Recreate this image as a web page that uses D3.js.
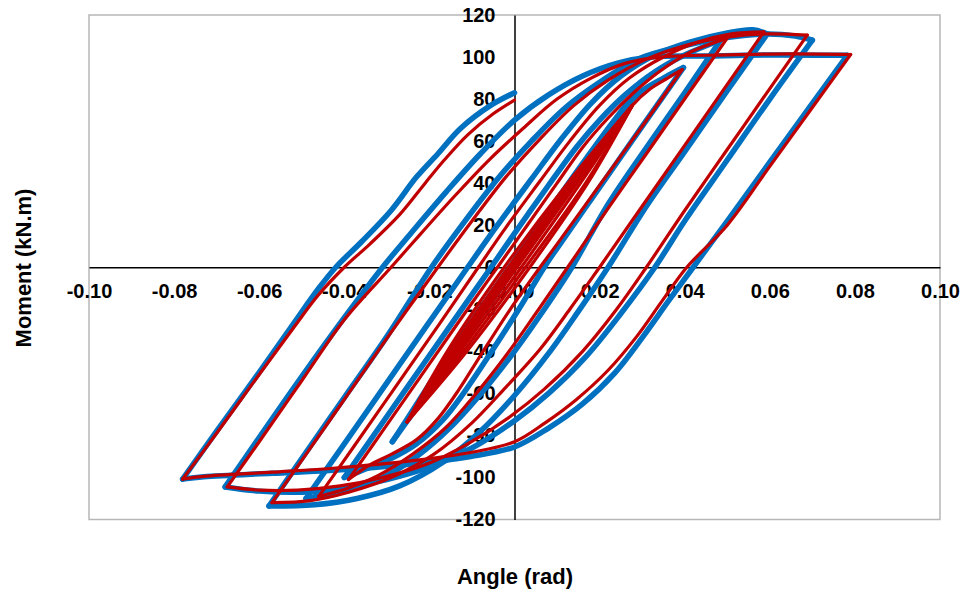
<!DOCTYPE html>
<head>
<meta charset="utf-8">
<style>
    body { margin: 0; background: #fff; }
    .blue { fill: none; stroke: #0070c0; stroke-width: 5.5px; stroke-linejoin: round; stroke-linecap: round; }
    .red  { fill: none; stroke: #c00000; stroke-width: 3.2px; stroke-linejoin: round; stroke-linecap: round; }
    .axis text { font-family: "Liberation Sans", Arial, sans-serif; font-weight: bold; font-size: 20px; fill: #000; }
    .axis path { stroke: #000; stroke-width: 1.5px; }
    .title { font-family: "Liberation Sans", Arial, sans-serif; font-weight: bold; font-size: 22px; }
</style>
<title>Moment - Angle</title>
</head>
<body>
<script src="https://d3js.org/d3.v7.min.js"></script>
<script>
// tick values
const xTicks = [-0.10, -0.08, -0.06, -0.04, -0.02, 0.00, 0.02, 0.04, 0.06, 0.08, 0.10];
const yTicks = [-120, -100, -80, -60, -40, -20, 0, 20, 40, 60, 80, 100, 120];

// blue specimen: [angle (rad), moment (kN.m)]
const blueCurve = [
    [0, 0], [0.005, 14], [0.0105, 30], [0.005, 16], [0, 1], [-0.005, -13], [-0.010, -28],
    [-0.005, -15], [0, 0], [0.005, 14], [0.010, 29], [0.015, 43], [0.020, 57],
    [0.014, 42], [0.007, 22], [0, 2], [-0.007, -18], [-0.014, -39], [-0.020, -56],
    [-0.013, -37], [-0.006, -16], [0.002, 6], [0.010, 29], [0.018, 52], [0.028, 82],
    [0.022, 66], [0.012, 38], [0.003, 12], [-0.006, -14], [-0.015, -40], [-0.022, -62], [-0.0287, -83],
    [-0.022, -64], [-0.012, -35], [-0.002, -6], [0.008, 23], [0.018, 53], [0.026, 76],
    [0.030, 84], [0.035, 90], [0.0397, 95],
    [0.030, 67], [0.020, 38], [0.010, 9], [0.007, 0], [0.001, -20], [-0.006, -42], [-0.012, -60],
    [-0.017, -73], [-0.023, -84], [-0.029, -91], [-0.035, -96], [-0.040, -100],
    [-0.030, -71], [-0.020, -42], [-0.010, -13], [-0.0055, 0], [0.001, 19], [0.008, 39], [0.0145, 57],
    [0.020, 70], [0.026, 82], [0.033, 93], [0.040, 101], [0.0484, 108],
    [0.040, 83], [0.030, 54], [0.022, 30], [0.0135, 0], [0.007, -20], [0, -40], [-0.007, -58],
    [-0.015, -76], [-0.023, -90], [-0.031, -100], [-0.040, -106], [-0.049, -110],
    [-0.040, -84], [-0.030, -55], [-0.020, -26], [-0.011, 0], [-0.004, 20], [0.004, 42], [0.011, 61],
    [0.018, 78], [0.025, 91], [0.033, 101], [0.041, 107], [0.050, 111.5], [0.056, 113], [0.0594, 111],
    [0.050, 84], [0.040, 55], [0.031, 29], [0.022, 0], [0.015, -21], [0.008, -41], [0, -61],
    [-0.008, -78], [-0.017, -93], [-0.027, -104], [-0.037, -110], [-0.047, -113], [-0.0577, -113.6],
    [-0.050, -91], [-0.040, -62], [-0.030, -33], [-0.0195, 0], [-0.012, 21], [-0.004, 42], [0.004, 60],
    [0.012, 76], [0.020, 88], [0.029, 99], [0.039, 105], [0.049, 109], [0.059, 111], [0.066, 110], [0.070, 108],
    [0.060, 80], [0.050, 51], [0.040, 22], [0.033, 0], [0.025, -22], [0.017, -42], [0.008, -60], [0, -73],
    [-0.010, -86], [-0.020, -95], [-0.030, -101], [-0.040, -105], [-0.050, -107], [-0.060, -106.5], [-0.068, -104.5],
    [-0.060, -81], [-0.050, -52], [-0.040, -24], [-0.031, 0], [-0.024, 17], [-0.016, 36], [-0.008, 54], [0, 70],
    [0.008, 82], [0.016, 91], [0.024, 97], [0.032, 100], [0.045, 100.5], [0.060, 101], [0.0782, 100.8],
    [0.070, 78], [0.060, 50], [0.050, 22], [0.042, 0], [0.0362, -16], [0.0302, -33], [0.0237, -50],
    [0.0160, -65], [0.0080, -76.5], [0, -85.5], [-0.0103, -90], [-0.026, -94], [-0.0417, -96.5],
    [-0.057, -98], [-0.073, -99.7], [-0.078, -100.8],
    [-0.070, -78], [-0.060, -50], [-0.052, -27], [-0.046, -10], [-0.042, 0], [-0.036, 12], [-0.029, 27],
    [-0.023, 43], [-0.018, 54], [-0.0127, 66], [-0.0056, 77], [0, 83]
];

// red specimen: [angle (rad), moment (kN.m)]
const redCurve = [
    [0, 0], [0.005, 15], [0.010, 29], [0.006, 19], [0, 2], [-0.005, -12], [-0.010, -27],
    [-0.006, -17], [0, -1], [0.005, 14], [0.010, 29], [0.005, 16], [0, 1], [-0.005, -13], [-0.010, -28],
    [-0.004, -11], [0.003, 9], [0.010, 30], [0.016, 47], [0.020, 58],
    [0.015, 45], [0.008, 25], [0.001, 4], [-0.006, -15], [-0.013, -36], [-0.020, -56],
    [-0.014, -40], [-0.007, -20], [0, 0], [0.007, 20], [0.014, 40], [0.020, 57],
    [0.016, 48], [0.008, 25], [0, 3], [-0.008, -20], [-0.016, -43], [-0.020, -55],
    [-0.013, -37], [-0.004, -12], [0.005, 14], [0.013, 37], [0.020, 58], [0.0277, 77],
    [0.0167, 40], [0.0026, 0], [-0.0120, -40], [-0.0252, -73.5],
    [-0.0150, -40], [-0.0014, 0], [0.0132, 40], [0.0277, 77],
    [0.0155, 40], [0.0016, 0], [-0.0128, -40], [-0.0252, -73.5],
    [-0.0143, -40], [-0.0004, 0], [0.0140, 40], [0.0277, 77],
    [0.0147, 40], [0.0006, 0], [-0.0135, -40], [-0.0252, -73.5],
    [-0.0158, -40], [-0.0024, 0], [0.0125, 40], [0.0277, 77],
    [0.0172, 40], [0.0036, 0], [-0.0112, -40], [-0.0252, -73.5],
    [-0.0139, -40], [0.0001, 0], [0.0143, 40], [0.0277, 77],
    [0.032, 85], [0.036, 90], [0.0394, 94],
    [0.030, 67], [0.020, 39], [0.010, 11], [0.006, 0], [-0.001, -20], [-0.008, -42], [-0.013, -58],
    [-0.018, -72], [-0.023, -82], [-0.029, -89], [-0.034, -94], [-0.039, -101],
    [-0.030, -75], [-0.020, -46], [-0.010, -17], [-0.004, 0], [0.003, 20], [0.010, 40], [0.016, 57],
    [0.022, 71], [0.028, 83], [0.034, 93], [0.041, 102], [0.050, 109],
    [0.041, 83], [0.031, 54], [0.022, 28], [0.0125, 0], [0.005, -22], [-0.002, -42], [-0.009, -60],
    [-0.016, -76], [-0.024, -89], [-0.032, -99], [-0.039, -105], [-0.046, -109],
    [-0.038, -86], [-0.028, -57], [-0.018, -28], [-0.0085, 0], [-0.002, 19], [0.006, 41], [0.013, 60],
    [0.020, 77], [0.027, 90], [0.035, 100], [0.043, 107], [0.051, 111], [0.0586, 112],
    [0.050, 87], [0.040, 58], [0.030, 29], [0.020, 0], [0.013, -20], [0.006, -39], [-0.002, -57],
    [-0.010, -74], [-0.019, -89], [-0.029, -100], [-0.039, -107], [-0.048, -111], [-0.057, -112],
    [-0.049, -89], [-0.039, -60], [-0.029, -31], [-0.018, 0], [-0.010, 22], [-0.002, 43], [0.006, 61],
    [0.014, 77], [0.022, 89], [0.031, 99], [0.041, 106], [0.050, 109.5], [0.059, 111], [0.0688, 110.4],
    [0.060, 85], [0.050, 56], [0.040, 27], [0.031, 0], [0.024, -20], [0.016, -40], [0.007, -58],
    [-0.001, -71], [-0.011, -84], [-0.021, -94], [-0.031, -100], [-0.041, -104], [-0.051, -106],
    [-0.060, -106], [-0.0675, -104.5],
    [-0.060, -83], [-0.050, -54], [-0.040, -25], [-0.029, 0], [-0.022, 16], [-0.014, 34], [-0.006, 51],
    [0.002, 66], [0.010, 80], [0.018, 90], [0.026, 97], [0.034, 100], [0.050, 101], [0.065, 101.5], [0.079, 101.2],
    [0.070, 76], [0.060, 48], [0.050, 20], [0.0405, 0], [0.0347, -16], [0.0287, -33], [0.0220, -49],
    [0.0145, -63], [0.0072, -74], [0, -83], [-0.010, -88], [-0.026, -92.5], [-0.042, -95.5],
    [-0.057, -97.5], [-0.073, -99.5], [-0.078, -100.8],
    [-0.070, -79], [-0.060, -51], [-0.052, -29], [-0.046, -13], [-0.040, 0], [-0.034, 11], [-0.027, 25],
    [-0.021, 40], [-0.0165, 51], [-0.011, 63], [-0.005, 73], [0, 79.5]
];

const width = 963, height = 595;
const plot = { left: 89, right: 940, top: 15, bottom: 519.5 };

const svg = d3.select('body').append('svg')
    .attr('width', width)
    .attr('height', height);

const x = d3.scaleLinear().domain([-0.1, 0.1]).range([plot.left, plot.right]);
const y = d3.scaleLinear().domain([-120, 120]).range([plot.bottom, plot.top]);

// plot area border
svg.append('rect')
    .attr('x', plot.left).attr('y', plot.top)
    .attr('width', plot.right - plot.left).attr('height', plot.bottom - plot.top)
    .attr('fill', 'none').attr('stroke', '#b7b7b7').attr('stroke-width', 1.5);

// plain hyphen for negatives, like the source chart
const fmtX = d => d3.format('.2f')(d).replace('\u2212', '-');
const fmtY = d => d3.format('d')(d).replace('\u2212', '-');

// axes cross at the origin
svg.append('g')
    .attr('class', 'axis')
    .attr('transform', `translate(0,${y(0)})`)
    .call(d3.axisBottom(x).tickValues(xTicks).tickFormat(fmtX).tickSize(0).tickPadding(17));

svg.append('g')
    .attr('class', 'axis')
    .attr('transform', `translate(${x(0)},0)`)
    .call(d3.axisLeft(y).tickValues(yTicks).tickFormat(fmtY).tickSize(0).tickPadding(19));

svg.selectAll('.axis .domain').attr('stroke', '#000').attr('stroke-width', 1.5);

// cut a record into half-cycles at each load reversal so the tips stay sharp
function halfCycles(pts) {
    const out = [];
    let seg = [pts[0]], dir = 0;
    for (let i = 1; i < pts.length; i++) {
        const d = Math.sign(pts[i][0] - pts[i - 1][0]);
        if (dir !== 0 && d !== 0 && d !== dir) {
            out.push(seg);
            seg = [pts[i - 1]];
        }
        if (d !== 0) dir = d;
        seg.push(pts[i]);
    }
    out.push(seg);
    return out;
}

const line = d3.line()
    .curve(d3.curveCatmullRom.alpha(0.5))
    .x(d => x(d[0]))
    .y(d => y(d[1]));

svg.append('g').selectAll('path')
    .data(halfCycles(blueCurve))
    .join('path')
    .attr('class', 'blue')
    .attr('d', line);

svg.append('g').selectAll('path')
    .data(halfCycles(redCurve))
    .join('path')
    .attr('class', 'red')
    .attr('d', line);

// axis titles
svg.append('text')
    .attr('class', 'title')
    .attr('x', 515).attr('y', 584)
    .attr('text-anchor', 'middle')
    .text('Angle (rad)');

svg.append('text')
    .attr('class', 'title')
    .attr('transform', 'translate(31,268) rotate(-90)')
    .attr('text-anchor', 'middle')
    .text('Moment (kN.m)');
</script>
</body>
